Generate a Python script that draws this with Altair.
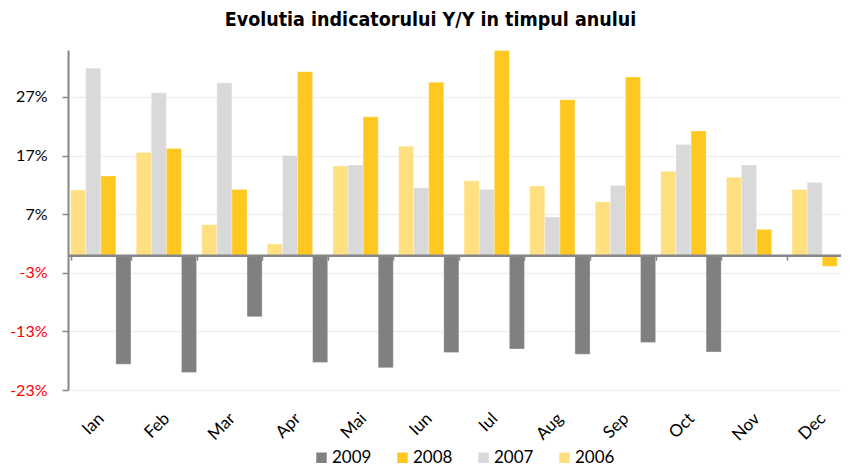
import altair as alt
import pandas as pd

months = ["Ian", "Feb", "Mar", "Apr", "Mai", "Iun", "Iul", "Aug", "Sep", "Oct", "Nov", "Dec"]
y2006 = [11.1, 17.5, 5.2, 1.9, 15.2, 18.6, 12.7, 11.8, 9.1, 14.3, 13.3, 11.2]
y2007 = [31.9, 27.7, 29.4, 17.0, 15.4, 11.5, 11.2, 6.5, 11.9, 18.9, 15.4, 12.4]
y2008 = [13.5, 18.2, 11.2, 31.3, 23.6, 29.5, 34.9, 26.5, 30.4, 21.2, 4.4, -1.9]
y2009 = [-18.6, -20.0, -10.5, -18.3, -19.2, -16.6, -16.0, -16.9, -14.9, -16.5, None, None]

legend_years = ["2009", "2008", "2007", "2006"]
bar_order = ["2006", "2007", "2008", "2009"]
colors = ["#808080", "#FFC820", "#D9D9D9", "#FFDF80"]
y_ticks = [-23, -13, -3, 7, 17, 27]

series = {"2006": y2006, "2007": y2007, "2008": y2008, "2009": y2009}
rows = []
for yr, vals in series.items():
    for m, v in zip(months, vals):
        if v is not None:
            rows.append({"month": m, "year": yr, "value": v})
df = pd.DataFrame(rows)

W, H = 773, 340
x_scale = alt.Scale(domain=months, range=[0, 787], paddingInner=0.08, paddingOuter=0.04)
y_scale = alt.Scale(domain=[-23, 35], nice=False, zero=False)

y_enc = alt.Y(
    "value:Q",
    scale=y_scale,
    axis=alt.Axis(
        values=y_ticks,
        title=None,
        labelExpr="datum.value + '%'",
        labelColor={"expr": "datum.value < 0 ? '#FF0000' : '#000000'"},
        labelFont="Lato",
        labelFontSize=16,
        labelPadding=15,
        domainColor="#868686",
        domainWidth=2,
        tickColor="#868686",
        tickSize=6,
        tickWidth=1.5,
        gridColor="#EFEFEF",
        gridWidth=1.5,
    ),
)

bars = alt.Chart(df).mark_bar(stroke="white", strokeWidth=0.5, strokeOpacity=0.6).encode(
    x=alt.X(
        "month:N",
        sort=months,
        scale=x_scale,
        axis=alt.Axis(
            title=None,
            domain=False,
            ticks=False,
            grid=False,
            labelAngle=315,
            labelFont="Lato",
            labelFontSize=17,
            labelPadding=20,
            labelOffset=-5,
            labelColor="#000000",
        ),
    ),
    xOffset=alt.XOffset("year:N", sort=bar_order),
    y=y_enc,
    color=alt.Color(
        "year:N",
        scale=alt.Scale(domain=legend_years, range=colors),
        legend=alt.Legend(
            title=None,
            orient="none",
            legendX=245,
            legendY=399,
            direction="horizontal",
            symbolType="square",
            symbolSize=110,
            symbolStrokeWidth=0,
            labelFont="Lato",
            labelFontSize=17,
            labelOffset=2,
            columnPadding=22,
        ),
    ),
)

zero_axis = alt.Chart(df).mark_bar(opacity=0).encode(
    x=alt.X(
        "month:N",
        sort=months,
        scale=x_scale,
        axis=alt.Axis(
            title=None,
            orient="bottom",
            offset=-134.8,
            labels=False,
            grid=False,
            tickBand="extent",
            domainColor="#868686",
            domainWidth=2.5,
            tickColor="#868686",
            tickSize=5,
            tickWidth=1.5,
            zindex=1,
        ),
    ),
    xOffset=alt.XOffset("year:N", sort=bar_order),
    y=alt.Y("value:Q", scale=y_scale),
)

chart = (
    alt.layer(bars, zero_axis)
    .resolve_axis(x="independent")
    .properties(
        width=W,
        height=H,
        autosize=alt.AutoSizeParams(type="none"),
        padding={"left": 60, "top": 42, "right": 0, "bottom": 79},
        title=alt.TitleParams(
            text="Evolutia indicatorului Y/Y in timpul anului",
            font="DejaVu Sans Condensed",
            fontWeight="bold",
            fontSize=19.5,
            color="#000000",
            anchor="middle",
            baseline="alphabetic",
            offset=5,
            dx=-24,
        ),
    )
    .configure_view(stroke=None)
)

chart.save("out.html", embed_options={"renderer": "svg", "actions": False})
